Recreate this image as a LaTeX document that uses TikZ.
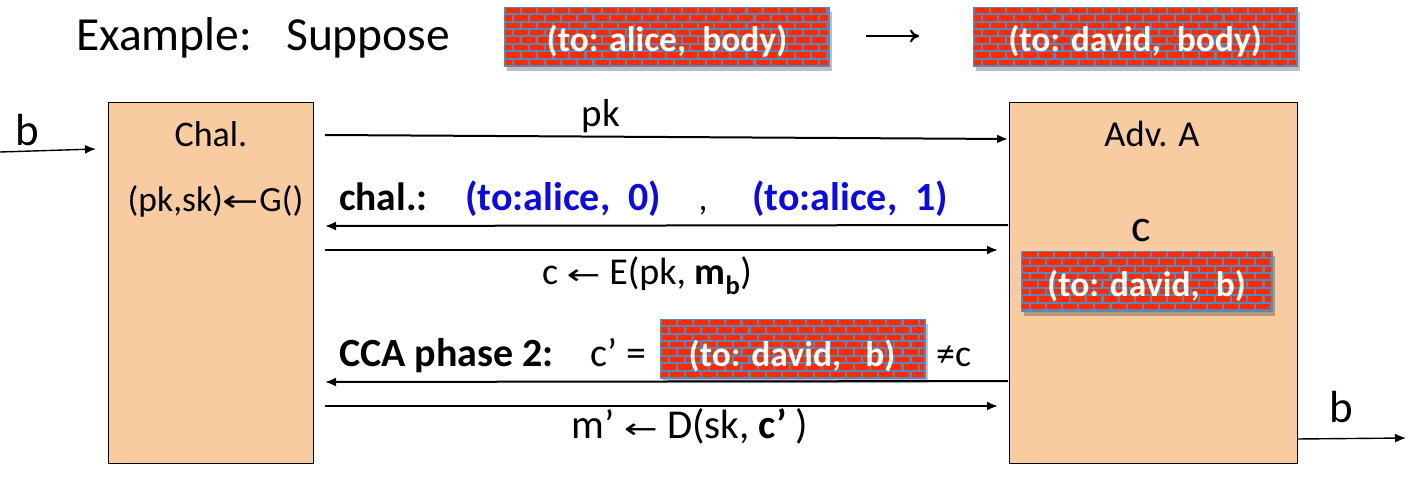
\documentclass[tikz,border=0pt]{standalone}
\usepackage{fontspec}
\usepackage{graphicx}
\setmainfont{Carlito}
\newfontfamily\arrowfont{DejaVu Sans}
\usetikzlibrary{shadows,arrows.meta}
\definecolor{boxfill}{HTML}{F8CBA0}
\definecolor{brickred}{HTML}{FF2A00}
\definecolor{mortar}{HTML}{5B87B8}
\definecolor{chalblue}{HTML}{0A0AE6}
\newcommand{\fsz}[1]{\fontsize{#1}{#1}\selectfont}
\newcommand{\larr}[1]{\scalebox{1.45}[1]{\arrowfont\fsz{#1}←}}
% name, x, y, w, h: brick-filled box in picture coordinates
\newcommand{\brickbox}[5]{%
  \node[brickbase,minimum width=#4pt,minimum height=#5pt] (#1) at (#2,#3) {};
  \begin{scope}
    \clip (#2+1,#3+1) rectangle (#2+#4-1,#3+#5-1);
    \foreach \r in {0,...,8}{
      \foreach \c in {-1,...,21}{
        \pgfmathsetmacro{\xo}{#2+\c*16.1+(mod(\r,2)==0?2:10)}
        \pgfmathsetmacro{\yo}{#3+\r*7.4+0.8}
        \fill[brickred] (\xo,\yo) rectangle ++(14,5.4);
      }
    }
  \end{scope}
}
\tikzset{
  party/.style={draw=black,line width=1.3pt,fill=boxfill,anchor=north west,inner sep=0pt},
  msg/.style={-{Latex[length=11pt,width=9pt]},line width=2pt,black},
  lbl/.style={inner sep=0pt,anchor=base,text=black},
  brickbase/.style={draw=mortar,line width=1.4pt,fill=mortar,anchor=north west,inner sep=0pt,
    drop shadow={shadow xshift=2pt,shadow yshift=-4pt,opacity=.25,fill=black}},
  bricklbl/.style={inner sep=0pt,anchor=base,text=white,font=\fsz{35.5}\bfseries},
}
\begin{document}
\begin{tikzpicture}[x=1pt,y=-1pt]
\useasboundingbox (0,0) rectangle (1418,478);
\fill[white] (0,0) rectangle (1418,478);

\node[lbl,anchor=base west,font=\fsz{47.5}] (ex) at (76,51) {Example:};
\node[lbl,anchor=base west,font=\fsz{47.5}] (sup) at (286,51) {Suppose};
\brickbox{b1}{504}{7}{325}{59}
\node[bricklbl] (b1t) at (667,52) {(to: alice,\ \ body)};
\brickbox{b2}{973}{7}{324}{59}
\node[bricklbl] (b2t) at (1135,52) {(to: david,\ \ body)};
\coordinate (ta) at (866,36);
\coordinate (tb) at (919,36);
\draw[-{To[length=9pt,width=13pt]},line width=2pt] (ta) -- (tb);

\node[party,minimum width=205pt,minimum height=361pt] (chal) at (108,102) {};
\node[party,minimum width=288pt,minimum height=361pt] (adv) at (1009,102) {};

\node[lbl,font=\fsz{36}] (chalt) at (211,147) {Chal.};
\node[lbl,font=\fsz{35.5}] (kg) at (215.5,212) {(pk,sk)\larr{30}G()};
\node[lbl,font=\fsz{36.5}] (advt) at (1152,147) {Adv. A};
\node[lbl,font=\fsz{46}] (ct) at (1141,242) {c};
\brickbox{b3}{1021}{251}{251}{60}
\node[bricklbl] (b3t) at (1146.5,296) {(to: david,\ \ b)};

% b in / out
\node[lbl,font=\fsz{45}] (bl) at (27,146) {b};
\coordinate (bin) at (0,152);
\coordinate (binend) at (96,149);
\draw[msg,line width=1.4pt] (bin) -- (binend);
\node[lbl,font=\fsz{45}] (br) at (1341,422) {b};
\coordinate (boutst) at (1297,439);
\coordinate (boutend) at (1406,438);
\draw[msg,line width=1.4pt] (boutst) -- (boutend);

% pk
\node[lbl,font=\fsz{39}] (pk) at (601,127) {pk};
\coordinate (s1) at (325,135);
\coordinate (e1) at (1008,139);
\draw[msg] (s1) -- (e1);

% challenge
\node[lbl,anchor=base west,font=\fsz{39.5}\bfseries] (chl) at (339,211) {chal.:};
\node[lbl,anchor=base west,font=\fsz{40}\bfseries,text=chalblue] (m0) at (465,211) {(to:alice,\ \ 0)};
\node[lbl,font=\fsz{36}] (comma) at (703,211) {,};
\node[lbl,anchor=base west,font=\fsz{40}\bfseries,text=chalblue] (m1) at (752,211) {(to:alice,\ \ 1)};
\coordinate (s2) at (1008,225);
\coordinate (e2) at (325,226);
\draw[msg] (s2) -- (e2);
\coordinate (s3) at (325,250);
\coordinate (e3) at (998,250);
\draw[msg] (s3) -- (e3);
\node[lbl,font=\fsz{38}] (enc) at (647,284) {c \larr{28} E(pk, \textbf{m\textsubscript{b}})};

% phase 2
\node[lbl,anchor=base west,font=\fsz{40}\bfseries] (cca) at (339,366) {CCA phase 2:};
\node[lbl,anchor=base west,font=\fsz{40}] (cp) at (590,366) {c’ =};
\brickbox{b4}{660}{319}{265}{59}
\node[bricklbl] (b4t) at (792,366) {(to: david,\ \ \ b)};
\node[lbl,anchor=base west,font=\fsz{38}] (nec) at (936,366) {≠c};
\coordinate (s4) at (1008,381);
\coordinate (e4) at (325,382);
\draw[msg] (s4) -- (e4);
\coordinate (s5) at (325,406);
\coordinate (e5) at (998,406);
\draw[msg] (s5) -- (e5);
\node[lbl,font=\fsz{41}] (dec) at (690,438) {m’ \larr{28} D(sk, \textbf{c’} )};
\end{tikzpicture}
\end{document}
